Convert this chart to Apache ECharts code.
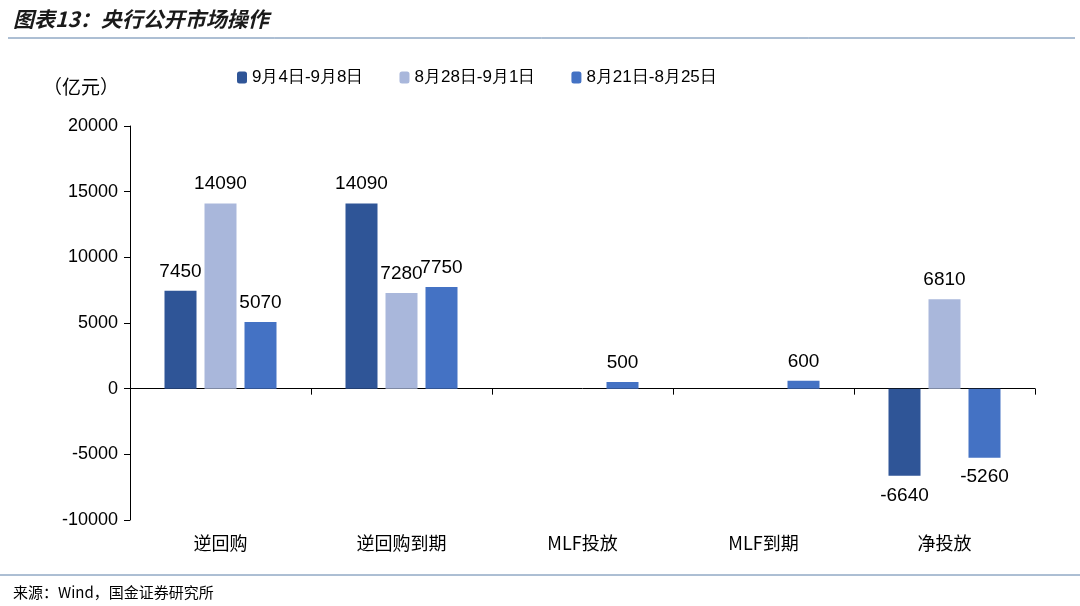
<!DOCTYPE html>
<html><head><meta charset="utf-8">
<script src="https://cdn.jsdelivr.net/npm/echarts@6/dist/echarts.min.js"></script>
<style>body{margin:0;background:#fff}#c{width:1080px;height:606px}</style>
</head><body><div id="c"></div>
<script>
const categories=['逆回购','逆回购到期','MLF投放','MLF到期','净投放'];
const seriesNames=['9月4日-9月8日','8月28日-9月1日','8月21日-8月25日'];
const s1=[7450,14090,null,null,-6640];
const s2=[14090,7280,null,null,6810];
const s3=[5070,7750,500,600,-5260];
const colors=['#2F5597','#A9B7DB','#4472C4'];
const font='"Noto Sans CJK SC","Liberation Sans",sans-serif';
const nfont='"Liberation Sans",Arial,sans-serif';
const chart=echarts.init(document.getElementById('c'));
function mk(name,data,i){return{name,type:'bar',barWidth:32,barGap:'25%',itemStyle:{color:colors[i]},
 label:{show:true,fontSize:19,color:'#000',fontFamily:nfont,formatter:p=>p.value,position:'top',distance:10},
 data:data.map(v=>v==null?null:{value:v,label:{position:v<0?'bottom':'top'}})};}
chart.setOption({
 animation:false,
 title:[{text:'图表13：央行公开市场操作',left:8,top:4,textStyle:{fontSize:21,fontStyle:'italic',fontWeight:'bold',color:'#1a1a1a',fontFamily:font}},
  {text:'来源：Wind，国金证券研究所',left:8,top:580,textStyle:{fontSize:15,fontWeight:'normal',color:'#000',fontFamily:font}},
  {text:'（亿元）',left:38,top:72,textStyle:{fontSize:19,fontWeight:'normal',color:'#000',fontFamily:font}}],
 graphic:[{type:'line',shape:{x1:8,y1:38,x2:1075,y2:38},style:{stroke:'#5a7fa8',lineWidth:1}},
  {type:'line',shape:{x1:0,y1:575,x2:1080,y2:575},style:{stroke:'#5a7fa8',lineWidth:1}}],
 legend:{top:64,left:232,itemWidth:10,itemHeight:12,itemGap:36,textStyle:{fontSize:17,fontFamily:nfont,color:'#000'},data:seriesNames},
 grid:{left:130,right:45,top:126,bottom:86},
 xAxis:[{type:'category',data:categories,axisLine:{onZero:true,lineStyle:{color:'#000'}},axisTick:{show:true,length:6,lineStyle:{color:'#000'}},axisLabel:{show:false}},
  {type:'category',data:categories,position:'bottom',axisLine:{show:false},axisTick:{show:false},axisLabel:{fontSize:18,color:'#000',fontFamily:font,margin:14}}],
 yAxis:{type:'value',min:-10000,max:20000,interval:5000,splitLine:{show:false},axisLine:{show:true,lineStyle:{color:'#000'}},axisTick:{show:true,length:6,lineStyle:{color:'#000'}},axisLabel:{fontSize:18,color:'#000',fontFamily:nfont,margin:12,formatter:v=>String(v)}},
 series:[mk(seriesNames[0],s1,0),mk(seriesNames[1],s2,1),mk(seriesNames[2],s3,2)]
});
</script></body></html>
